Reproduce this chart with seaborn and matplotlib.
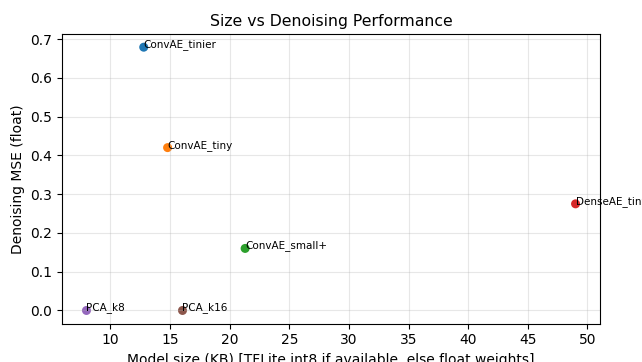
import matplotlib
matplotlib.use("Agg")
import matplotlib.pyplot as plt
from matplotlib.ticker import MultipleLocator
import seaborn as sns
import pandas as pd

models = ["ConvAE_tinier", "ConvAE_tiny", "ConvAE_small+", "DenseAE_tiny", "PCA_k8", "PCA_k16"]
size_kb = [12.8, 14.8, 21.3, 49.0, 8.0, 16.05]
mse = [0.679, 0.42, 0.16, 0.275, 0.0, 0.0]

df = pd.DataFrame({"model": models, "size_kb": size_kb, "mse": mse})

fig, ax = plt.subplots(figsize=(6.42, 3.62), dpi=100)
sns.scatterplot(data=df, x="size_kb", y="mse", hue="model", hue_order=models,
                palette="tab10", s=42, edgecolor="none", legend=False, ax=ax)

for name, x, y in zip(models, size_kb, mse):
    ax.text(x, y, name, fontsize=7.5)

ax.xaxis.set_major_locator(MultipleLocator(5))
ax.grid(True, alpha=0.3)
ax.set_title("Size vs Denoising Performance", fontsize=11.3)
ax.set_xlabel("Model size (KB) [TFLite int8 if available, else float weights]")
ax.set_ylabel("Denoising MSE (float)")

fig.subplots_adjust(left=0.0966, right=0.9346, top=0.906, bottom=0.106)
fig.savefig("out.png", dpi=100)
